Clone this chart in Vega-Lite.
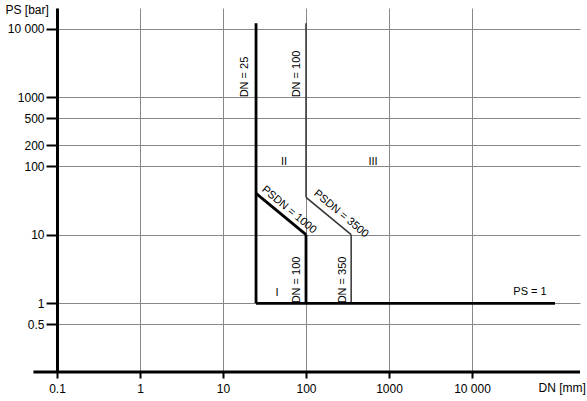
{
  "$schema": "https://vega.github.io/schema/vega-lite/v6.json",
  "width": 523,
  "height": 364,
  "autosize": {"type": "none"},
  "padding": {"left": 57, "top": 8, "right": 7, "bottom": 29},
  "background": "white",
  "config": {"view": {"stroke": null}, "font": "Liberation Sans"},
  "datasets": {
    "thin": [
      {"name": "DN = 100 (upper)", "x": 100, "x2": 100, "y": 35, "y2": 12000},
      {"name": "PSDN = 3500", "x": 100, "x2": 350, "y": 35, "y2": 10},
      {"name": "DN = 350", "x": 350, "x2": 350, "y": 10, "y2": 1}
    ],
    "thick": [
      {"name": "DN = 25", "x": 25, "x2": 25, "y": 1, "y2": 12000},
      {"name": "PSDN = 1000", "x": 25, "x2": 100, "y": 40, "y2": 10},
      {"name": "DN = 100 (lower)", "x": 100, "x2": 100, "y": 10, "y2": 1},
      {"name": "PS = 1", "x": 25, "x2": 100000, "y": 1, "y2": 1}
    ],
    "baseline": [
      {"x": 0.052, "x2": 200000, "y": 0.1, "y2": 0.1}
    ],
    "vertical": [
      {"label": "DN = 25", "x": 18.4, "y": 1977},
      {"label": "DN = 100", "x": 78, "y": 2190},
      {"label": "DN = 100", "x": 78, "y": 2.19},
      {"label": "DN = 350", "x": 279, "y": 2.19}
    ],
    "diagonal": [
      {"label": "PSDN = 1000", "x": 62.4, "y": 22.9},
      {"label": "PSDN = 3500", "x": 264, "y": 20}
    ],
    "horizontal": [
      {"label": "I", "x": 44.7, "y": 1.42},
      {"label": "II", "x": 54.3, "y": 114},
      {"label": "III", "x": 641, "y": 114},
      {"label": "PS = 1", "x": 50000, "y": 1.46}
    ]
  },
  "encoding": {
    "x": {
      "field": "x", "type": "quantitative",
      "scale": {"type": "log", "domain": [0.1, 200000], "nice": false},
      "axis": {
        "values": [0.1, 1, 10, 100, 1000, 10000],
        "labelExpr": "datum.value == 10000 ? '10 000' : format(datum.value, '~g')",
        "grid": true, "gridColor": "#888", "gridWidth": 1,
        "domain": false,
        "ticks": true, "tickColor": "black", "tickWidth": 2, "tickSize": 6,
        "labelFontSize": 12, "labelColor": "black", "labelPadding": 5,
        "labelFlush": false, "labelOverlap": false, "labelFont": "Liberation Sans",
        "title": "DN [mm]", "titleAngle": 0, "titleAlign": "left", "titleBaseline": "alphabetic",
        "titleX": 481, "titleY": 19, "titleFontSize": 12, "titleFontWeight": "normal",
        "titleColor": "black", "titleFont": "Liberation Sans"
      }
    },
    "y": {
      "field": "y", "type": "quantitative",
      "scale": {"type": "log", "domain": [0.1, 20000], "nice": false},
      "axis": {
        "values": [0.5, 1, 10, 100, 200, 500, 1000, 10000],
        "labelExpr": "datum.value == 10000 ? '10 000' : format(datum.value, '~g')",
        "grid": true, "gridColor": "#888", "gridWidth": 1,
        "domain": true, "domainColor": "black", "domainWidth": 3,
        "ticks": true, "tickColor": "black", "tickWidth": 2, "tickSize": 11,
        "labelFontSize": 12, "labelColor": "black", "labelPadding": 2,
        "labelFlush": false, "labelOverlap": false, "labelFont": "Liberation Sans",
        "title": "PS [bar]", "titleAngle": 0, "titleAlign": "left", "titleBaseline": "alphabetic",
        "titleX": -52, "titleY": 5, "titleFontSize": 12, "titleFontWeight": "normal",
        "titleColor": "black", "titleFont": "Liberation Sans"
      }
    }
  },
  "layer": [
    {
      "data": {"name": "thin"},
      "mark": {"type": "rule", "strokeWidth": 1.5, "color": "#333"},
      "encoding": {"x2": {"field": "x2"}, "y2": {"field": "y2"}}
    },
    {
      "data": {"name": "thick"},
      "mark": {"type": "rule", "strokeWidth": 2.8, "color": "black"},
      "encoding": {"x2": {"field": "x2"}, "y2": {"field": "y2"}}
    },
    {
      "data": {"name": "baseline"},
      "mark": {"type": "rule", "strokeWidth": 3, "color": "black"},
      "encoding": {"x2": {"field": "x2"}, "y2": {"field": "y2"}}
    },
    {
      "data": {"name": "vertical"},
      "mark": {"type": "text", "angle": 270, "align": "center", "baseline": "middle", "fontSize": 11, "color": "black", "font": "Liberation Sans"},
      "encoding": {"text": {"field": "label"}}
    },
    {
      "data": {"name": "diagonal"},
      "mark": {"type": "text", "angle": 40, "align": "center", "baseline": "middle", "fontSize": 11, "color": "black", "font": "Liberation Sans"},
      "encoding": {"text": {"field": "label"}}
    },
    {
      "data": {"name": "horizontal"},
      "mark": {"type": "text", "align": "center", "baseline": "middle", "fontSize": 11, "color": "black", "font": "Liberation Sans"},
      "encoding": {"text": {"field": "label"}}
    }
  ]
}
